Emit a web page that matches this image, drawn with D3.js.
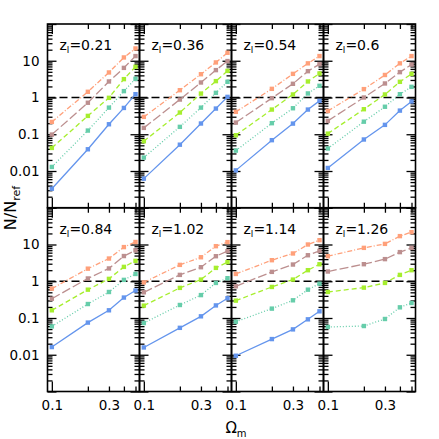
<!DOCTYPE html>
<html>
<head>
<meta charset="utf-8">
<script src="https://cdn.jsdelivr.net/npm/d3@7"></script>
<style>
html,body{margin:0;padding:0;background:#fff;}
svg{display:block;font-family:"DejaVu Sans",sans-serif;}
</style>
</head>
<body>
<svg id="chart" width="439" height="439"></svg>
<script>
// ---- data ----
const zLabels = ["0.21","0.36","0.54","0.6","0.84","1.02","1.14","1.26"];
const omegaM = [0.1, 0.2, 0.3, 0.4, 0.5];
const nOrange = [
  [0.217,1.43,4.8,12.3,21.6],
  [0.297,1.58,4.3,9.0,16.5],
  [0.407,1.72,4.4,8.5,13.4],
  [0.43,1.69,4.1,8.5,13.4],
  [0.63,2.2,4.15,8.5,11.7],
  [0.93,2.79,4.5,9.0,11.6],
  [1.58,3.74,5.7,10,13.1],
  [4.8,8.1,10.4,16.9,21.7]
];
const nBrown = [
  [0.098,0.72,2.73,6.4,13.4],
  [0.149,0.88,2.56,5.56,9.8],
  [0.208,0.96,2.36,5.2,8.1],
  [0.231,1.0,2.41,4.9,7.9],
  [0.335,1.19,2.23,4.85,6.95],
  [0.5,1.49,2.41,4.8,6.6],
  [0.73,1.8,2.85,5.1,6.7],
  [1.84,2.91,4.0,6.2,8.1]
];
const nGreen = [
  [0.0425,0.316,0.98,3.16,6.85],
  [0.0646,0.39,1.28,2.79,5.3],
  [0.094,0.47,1.21,2.73,4.5],
  [0.104,0.48,1.21,2.67,4.4],
  [0.162,0.59,1.16,2.46,3.59],
  [0.217,0.66,1.11,2.31,3.3],
  [0.297,0.7,1.11,2.0,2.9],
  [0.51,0.67,0.9,1.49,2.0]
];
const nTeal = [
  [0.0129,0.126,0.53,1.49,3.23],
  [0.0232,0.159,0.53,1.34,2.67],
  [0.0359,0.2,0.51,1.29,2.08],
  [0.041,0.22,0.56,1.23,1.95],
  [0.059,0.24,0.51,1.09,1.58],
  [0.073,0.226,0.42,0.9,1.21],
  [0.079,0.18,0.303,0.59,0.86],
  [0.057,0.0605,0.094,0.195,0.256]
];
const nBlue = [
  [0.0033,0.039,0.187,0.52,1.23],
  [0.0062,0.052,0.196,0.5,1.04],
  [0.0104,0.069,0.195,0.47,0.81],
  [0.0121,0.072,0.18,0.44,0.78],
  [0.0162,0.075,0.162,0.36,0.56],
  [0.0158,0.054,0.111,0.22,0.345],
  [0.0094,0.0267,0.049,0.092,0.152],
  null
];
const yTickValues = [0.01, 0.1, 1, 10];
const yTickLabels = ["0.01","0.1","1","10"];
const xTickLabelValues = [0.1, 0.3];
const xTickLabels = ["0.1","0.3"];
const refLevel = 1;

// ---- layout / style ----
const series = [
  {data:nBlue,   color:"#6495ED", dash:null},
  {data:nTeal,   color:"#66CDAA", dash:"1,2"},
  {data:nGreen,  color:"#A6EE2E", dash:"5,3"},
  {data:nBrown,  color:"#BC8F8F", dash:"9,3"},
  {data:nOrange, color:"#FFA07A", dash:"5,2,1,2"}
];
const plotLeft = 47.5, plotTop = 24, pw = 92, ph = 183.75;
const xDomain = [0.092, 0.54], yDomain = [0.001, 100];

const svg = d3.select("#chart");

const yMajor = [0.001,0.01,0.1,1,10,100];
const yMinor = [];
for (let e=-3;e<=1;e++) for (let k=2;k<=9;k++) yMinor.push(k*Math.pow(10,e));
const xMajor = [0.1];
const xMinor = [0.2,0.3,0.4,0.5];

zLabels.forEach((zl, i) => {
  const col = i % 4, row = Math.floor(i / 4);
  const x0 = plotLeft + col*pw, y0 = plotTop + row*ph;
  const x = d3.scaleLog().domain(xDomain).range([x0, x0+pw]);
  const y = d3.scaleLog().domain(yDomain).range([y0+ph, y0]);
  const g = svg.append("g");

  // ticks
  const tickG = g.append("g").attr("class","ticks");
  function addAxis(axis, tx, ty){
    const a = tickG.append("g").attr("transform",`translate(${tx},${ty})`).call(axis);
    a.select(".domain").remove();
    a.selectAll(".tick line").attr("stroke","#000").attr("stroke-width",1.3);
    a.selectAll(".tick text").remove();
  }
  addAxis(d3.axisLeft(y).tickValues(yMajor).tickSize(-9), x0, 0);
  addAxis(d3.axisLeft(y).tickValues(yMinor).tickSize(-5), x0, 0);
  addAxis(d3.axisRight(y).tickValues(yMajor).tickSize(-9), x0+pw, 0);
  addAxis(d3.axisRight(y).tickValues(yMinor).tickSize(-5), x0+pw, 0);
  addAxis(d3.axisBottom(x).tickValues(xMajor).tickSize(-10), 0, y0+ph);
  addAxis(d3.axisBottom(x).tickValues(xMinor).tickSize(-5), 0, y0+ph);
  addAxis(d3.axisTop(x).tickValues(xMajor).tickSize(-10), 0, y0);
  addAxis(d3.axisTop(x).tickValues(xMinor).tickSize(-5), 0, y0);

  // reference dashed line
  g.append("line")
    .attr("x1", x0).attr("x2", x0+pw)
    .attr("y1", y(refLevel)).attr("y2", y(refLevel))
    .attr("stroke","#000").attr("stroke-width",1.5)
    .attr("stroke-dasharray","8,4");

  // series
  series.forEach(s => {
    const vals = s.data[i];
    if (!vals) return;
    const pts = omegaM.map((om, j) => [om, vals[j]]);
    const line = d3.line().x(d => x(d[0])).y(d => y(d[1]));
    g.append("path").attr("d", line(pts))
      .attr("fill","none").attr("stroke", s.color).attr("stroke-width",1.3)
      .attr("stroke-dasharray", s.dash);
    g.selectAll(null).data(pts).enter().append("rect")
      .attr("x", d => x(d[0]) - 2.2).attr("y", d => y(d[1]) - 2.2)
      .attr("width", 4.4).attr("height", 4.4).attr("fill", s.color);
  });

  // frame
  g.append("rect").attr("x", x0).attr("y", y0).attr("width", pw).attr("height", ph)
    .attr("fill","none").attr("stroke","#000").attr("stroke-width",1.6);

  // panel label
  const t = g.append("text").attr("x", x0+12).attr("y", y0+26)
    .attr("font-size", 14).attr("fill","#000");
  t.append("tspan").text("z");
  t.append("tspan").attr("font-size", 9).attr("dy", 3).text("l");
  t.append("tspan").attr("dy", -3).text("=" + zl);

  // tick labels
  if (col === 0) {
    const a = g.append("g").attr("transform",`translate(${x0},0)`)
      .call(d3.axisLeft(y).tickValues(yTickValues).tickSize(0).tickPadding(8)
        .tickFormat((d, k) => yTickLabels[k]));
    a.select(".domain").remove();
    a.selectAll("text").attr("font-size", 13.5).attr("font-family","DejaVu Sans").attr("fill","#000");
  }
  if (row === 1) {
    const a = g.append("g").attr("transform",`translate(0,${y0+ph})`)
      .call(d3.axisBottom(x).tickValues(xTickLabelValues).tickSize(0).tickPadding(8.5)
        .tickFormat((d, k) => xTickLabels[k]));
    a.select(".domain").remove();
    a.selectAll("text").attr("font-size", 13.5).attr("font-family","DejaVu Sans").attr("fill","#000");
  }
});

// axis titles
const yt = svg.append("text")
  .attr("transform","translate(16,208) rotate(-90)")
  .attr("text-anchor","middle").attr("font-size",16).attr("fill","#000");
yt.append("tspan").text("N/N");
yt.append("tspan").attr("font-size",11).attr("dy",4).text("ref");

const xt = svg.append("text")
  .attr("x", 236).attr("y", 433)
  .attr("text-anchor","middle").attr("font-size",15).attr("fill","#000");
xt.append("tspan").text("Ω");
xt.append("tspan").attr("font-size",10).attr("dy",4).text("m");
</script>
</body>
</html>
